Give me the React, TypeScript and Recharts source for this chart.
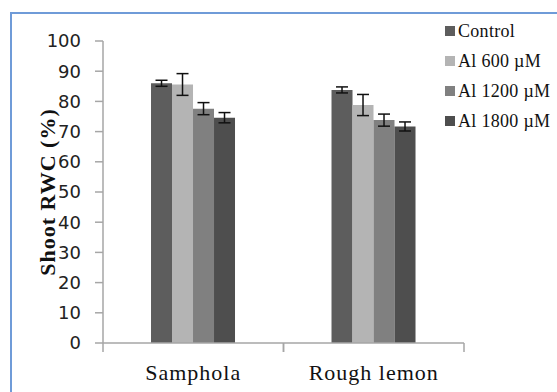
import React from "react";
import { BarChart, Bar, XAxis, YAxis, ErrorBar, Legend } from "recharts";

const categories = ["Samphola", "Rough lemon"];
const seriesNames = ["Control", "Al 600 µM", "Al 1200 µM", "Al 1800 µM"];
const control = [86.0, 83.8];
const controlErr = [1.0, 1.0];
const al600 = [85.6, 78.8];
const al600Err = [3.6, 3.5];
const al1200 = [77.6, 73.8];
const al1200Err = [2.0, 2.0];
const al1800 = [74.6, 71.7];
const al1800Err = [1.7, 1.5];
const yTicks = [0, 10, 20, 30, 40, 50, 60, 70, 80, 90, 100];

const colors = ["#5d5d5d", "#b4b4b4", "#808080", "#4e4e4e"];
const keys = ["s0", "s1", "s2", "s3"];
const errKeys = ["e0", "e1", "e2", "e3"];

const values = [control, al600, al1200, al1800];
const errors = [controlErr, al600Err, al1200Err, al1800Err];

const data = categories.map((c, i) => {
  const row: Record<string, any> = { name: c };
  values.forEach((v, k) => {
    row[keys[k]] = v[i];
    row[errKeys[k]] = errors[k][i];
  });
  return row;
});

const LegendContent = () => (
  <div style={{ fontFamily: "'Liberation Serif', serif", fontSize: 18, color: "#111", width: 112 }}>
    {seriesNames.map((n, i) => (
      <div key={n} style={{ display: "flex", alignItems: "center", height: 30, whiteSpace: "nowrap" }}>
        <span style={{ display: "inline-block", width: 10, height: 10, background: colors[i], marginRight: 3 }} />
        <span style={{ letterSpacing: 0.3 }}>{n}</span>
      </div>
    ))}
  </div>
);

const YTitle = () => (
  <text
    x={55}
    y={192}
    transform="rotate(-90 55 192)"
    textAnchor="middle"
    fontFamily="'Liberation Serif', serif"
    fontWeight="bold"
    fontSize={22}
    letterSpacing={1}
    fill="#111"
  >
    Shoot RWC (%)
  </text>
);

const CatTick = (props: any) => {
  const { x, y, payload } = props;
  const half = payload && payload.offset ? payload.offset : 0;
  const axisY = y - 9 - 12;
  return (
    <g>
      <line x1={x - half} x2={x - half} y1={axisY} y2={axisY + 9} stroke="#a6a6a6" strokeWidth={1.5} />
      <line x1={x + half} x2={x + half} y1={axisY} y2={axisY + 9} stroke="#a6a6a6" strokeWidth={1.5} />
      <text
        x={x}
        y={y}
        dy="0.71em"
        textAnchor="middle"
        fontFamily="'Liberation Serif', serif"
        fontSize={22}
        letterSpacing={1}
        fill="#111"
      >
        {payload.value}
      </text>
    </g>
  );
};

export default function App() {
  return (
    <div style={{ position: "fixed", left: 0, top: 0, width: 557, height: 392, overflow: "hidden", background: "#fff" }}>
      <div
        style={{
          position: "absolute",
          left: 10,
          top: 12,
          width: 700,
          height: 600,
          borderLeft: "2px solid #6f9bd8",
          borderTop: "2px solid #6f9bd8",
        }}
      />
      <div style={{ position: "absolute", left: 0, top: 0 }}>
        <BarChart
          width={557}
          height={392}
          data={data}
          margin={{ top: 41, right: -19, bottom: 0, left: 0 }}
          barCategoryGap="26.6%"
          barGap={0}
        >
          <XAxis
            dataKey="name"
            height={49}
            axisLine={{ stroke: "#a6a6a6", strokeWidth: 1.5 }}
            tickLine={false}
            tickSize={9}
            tickMargin={12}
            tick={<CatTick />}
            interval={0}
          />
          <YAxis
            width={103}
            domain={[0, 100]}
            ticks={yTicks}
            interval={0}
            axisLine={{ stroke: "#a6a6a6", strokeWidth: 1.5 }}
            tickLine={{ stroke: "#a6a6a6", strokeWidth: 1.5 }}
            tickSize={8}
            tickMargin={14}
            tick={{ fontFamily: "'DejaVu Sans', sans-serif", fontSize: 18, fill: "#222" }}
            label={<YTitle />}
          />
          <Legend
            layout="vertical"
            align="right"
            verticalAlign="top"
            content={<LegendContent />}
            wrapperStyle={{ left: 445, top: 16, width: 112 }}
          />
          {keys.map((k, i) => (
            <Bar key={k} dataKey={k} name={seriesNames[i]} fill={colors[i]} isAnimationActive={false}>
              <ErrorBar dataKey={errKeys[i]} width={6} stroke="#111" strokeWidth={1.5} direction="y" />
            </Bar>
          ))}
        </BarChart>
      </div>
    </div>
  );
}
